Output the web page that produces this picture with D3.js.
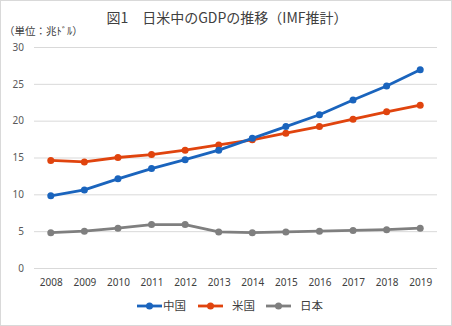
<!DOCTYPE html>
<html>
<head>
<meta charset="utf-8">
<script src="https://cdn.jsdelivr.net/npm/d3@7"></script>
<style>
  body { margin: 0; background: #fff; }
  svg { display: block; font-family: "Noto Sans CJK JP", "Noto Sans", sans-serif; }
</style>
</head>
<body>
<svg id="chart"></svg>
<script>
// 年
var years = ['2008', '2009', '2010', '2011', '2012', '2013', '2014', '2015', '2016', '2017', '2018', '2019'];

// GDP (兆ドル)
var china = [9.8, 10.6, 12.1, 13.5, 14.7, 16.0, 17.6, 19.2, 20.8, 22.8, 24.7, 26.9];
var usa = [14.6, 14.4, 15.0, 15.4, 16.0, 16.7, 17.4, 18.3, 19.2, 20.2, 21.2, 22.1];
var japan = [4.8, 5.0, 5.4, 5.9, 5.9, 4.9, 4.8, 4.9, 5.0, 5.1, 5.2, 5.4];

var yTicks = [0, 5, 10, 15, 20, 25, 30];

var seriesNames = ['中国', '米国', '日本'];
var seriesColors = ['#1a64bd', '#e0440e', '#7f7f7f'];

var W = 452, H = 326;
var svg = d3.select('#chart').attr('width', W).attr('height', H);

// frame
svg.append('rect')
	.attr('x', 0.5).attr('y', 0.5)
	.attr('width', W - 1).attr('height', H - 1)
	.attr('fill', '#fff')
	.attr('stroke', '#d9d9d9');

var x = d3.scalePoint().domain(years).range([34, 437]).padding(0.5);
var y = d3.scaleLinear().domain([0, 30]).range([268, 47]);

// title
svg.append('text')
	.attr('x', 227).attr('y', 23)
	.attr('text-anchor', 'middle')
	.attr('fill', '#404040')
	.style('font-size', '14px')
	.text('図1　日米中のGDPの推移（IMF推計）');

svg.append('text')
	.attr('x', 4).attr('y', 35)
	.attr('fill', '#404040')
	.style('font-size', '10.5px')
	.text('（単位：兆ﾄﾞﾙ）');

// y grid + labels
var yAxis = d3.axisLeft(y).tickValues(yTicks).tickSize(-(437 - 34)).tickPadding(10);
var gy = svg.append('g').attr('transform', 'translate(34,0)').call(yAxis);
gy.select('.domain').remove();
gy.selectAll('.tick line').attr('stroke', '#d9d9d9');
gy.selectAll('.tick text')
	.attr('fill', '#595959')
	.style('font-size', '10px')
	.style('font-family', '"Noto Sans", sans-serif');

// x labels
var xAxis = d3.axisBottom(x).tickSize(0).tickPadding(11);
var gx = svg.append('g').attr('transform', 'translate(0,268)').call(xAxis);
gx.select('.domain').remove();
gx.selectAll('.tick text')
	.attr('fill', '#404040')
	.style('font-size', '10px')
	.style('font-family', '"Noto Sans", sans-serif');

var allSeries = [china, usa, japan];

var line = d3.line()
	.x(function (d, i) { return x(years[i]); })
	.y(function (d) { return y(d); });

// draw japan first so the others sit on top
[2, 1, 0].forEach(function (s) {
	var g = svg.append('g');
	g.append('path')
		.datum(allSeries[s])
		.attr('d', line)
		.attr('fill', 'none')
		.attr('stroke', seriesColors[s])
		.attr('stroke-width', 2.8)
		.attr('stroke-linejoin', 'round');
	g.selectAll('circle')
		.data(allSeries[s])
		.enter().append('circle')
		.attr('cx', function (d, i) { return x(years[i]); })
		.attr('cy', function (d) { return y(d); })
		.attr('r', 3.5)
		.attr('fill', seriesColors[s]);
});

// legend
var legendX = [137, 198, 266];
var lg = svg.append('g').attr('transform', 'translate(0,306)');
seriesNames.forEach(function (name, i) {
	var lx = legendX[i];
	lg.append('line')
		.attr('x1', lx).attr('x2', lx + 25)
		.attr('y1', 0).attr('y2', 0)
		.attr('stroke', seriesColors[i])
		.attr('stroke-width', 2.8);
	lg.append('circle')
		.attr('cx', lx + 12.5).attr('cy', 0).attr('r', 3.5)
		.attr('fill', seriesColors[i]);
	lg.append('text')
		.attr('x', i === 0 ? lx + 26 : lx + 34)
		.attr('y', 4)
		.attr('fill', '#404040')
		.style('font-size', '11.5px')
		.text(name);
});
</script>
</body>
</html>
